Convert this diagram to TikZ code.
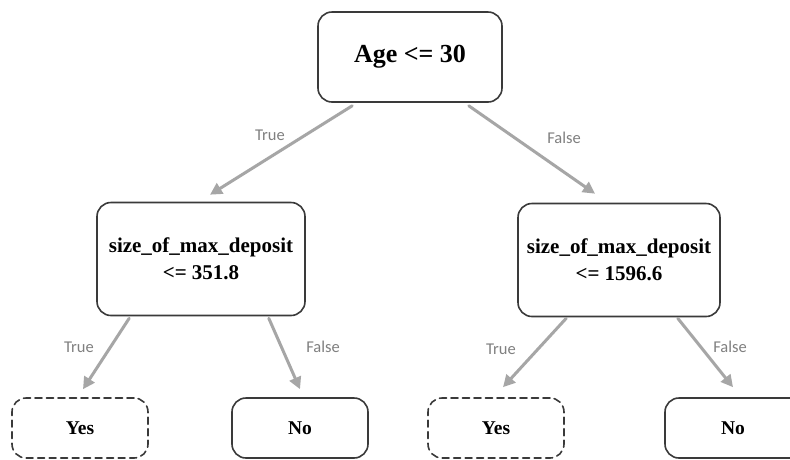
\documentclass[tikz,border=0pt]{standalone}
\usepackage{fontspec}
\setmainfont{Liberation Serif}
\newfontfamily\lblfont{Carlito}
\usepackage{xcolor}
\usetikzlibrary{arrows.meta}
\definecolor{edge}{HTML}{3A3A3A}
\definecolor{arrowc}{HTML}{A6A6A6}
\definecolor{muted}{HTML}{808080}
\tikzset{
  box/.style={draw=edge, line width=1.6pt, rounded corners=14pt, fill=white, align=center, font=\bfseries},
  rootbox/.style={box, minimum width=184pt, minimum height=90pt, font=\bfseries\fontsize{26}{29}\selectfont},
  midbox/.style={box, minimum height=113pt, font=\bfseries\fontsize{21}{27}\selectfont},
  leaf/.style={box, minimum width=136pt, minimum height=60pt, font=\bfseries\fontsize{19.5}{22}\selectfont},
  leafd/.style={leaf, dash pattern=on 7pt off 4.5pt},
  arr/.style={draw=arrowc, line width=3pt, -{Triangle[length=12pt,width=12pt]}},
  lab/.style={text=muted, font=\lblfont\fontsize{16.5}{18}\selectfont}
}

\begin{document}
\begin{tikzpicture}[x=1pt, y=-1pt, line cap=round, line join=round]
  \path[use as bounding box, clip] (0,0) rectangle (790,459);
  \fill[white] (0,0) rectangle (790,459);
  \node[rootbox] (root) at (410,57) {Age <= 30};
  \node[midbox, minimum width=208pt] (lmid) at (201,259) {size\_of\_max\_deposit\\<= 351.8};
  \node[midbox, minimum width=202pt] (rmid) at (619,260) {size\_of\_max\_deposit\\<= 1596.6};
  \node[leafd] (lyes) at (80,428) {Yes};
  \node[leaf] (lno) at (300,428) {No};
  \node[leafd] (ryes) at (496,428) {Yes};
  \node[leaf, minimum width=154pt] (rno) at (742,428) {\hspace*{-18pt}No};
  \draw[arr] ([xshift=35pt,yshift=-3pt]root.south west) -- ([xshift=9pt,yshift=7pt]lmid.north);
  \draw[arr] ([xshift=-34pt,yshift=-3pt]root.south east) -- ([xshift=-24pt,yshift=9pt]rmid.north);
  \draw[arr] ([xshift=33pt,yshift=-2pt]lmid.south west) -- ([xshift=3pt,yshift=8pt]lyes.north);
  \draw[arr] ([xshift=-37pt,yshift=-2pt]lmid.south east) -- ([yshift=8pt]lno.north);
  \draw[arr] ([xshift=49pt,yshift=-1pt]rmid.south west) -- ([xshift=7pt,yshift=10pt]ryes.north);
  \draw[arr] ([xshift=-43pt,yshift=-1pt]rmid.south east) -- ([xshift=-9pt,yshift=10pt]rno.north);
  \node[lab] (t1) at (270,135) {True};
  \node[lab] (f1) at (564,138) {False};
  \node[lab] (t2) at (79,347) {True};
  \node[lab] (f2) at (323,347) {False};
  \node[lab] (t3) at (501,349) {True};
  \node[lab] (f3) at (730,347) {False};
\end{tikzpicture}
\end{document}
